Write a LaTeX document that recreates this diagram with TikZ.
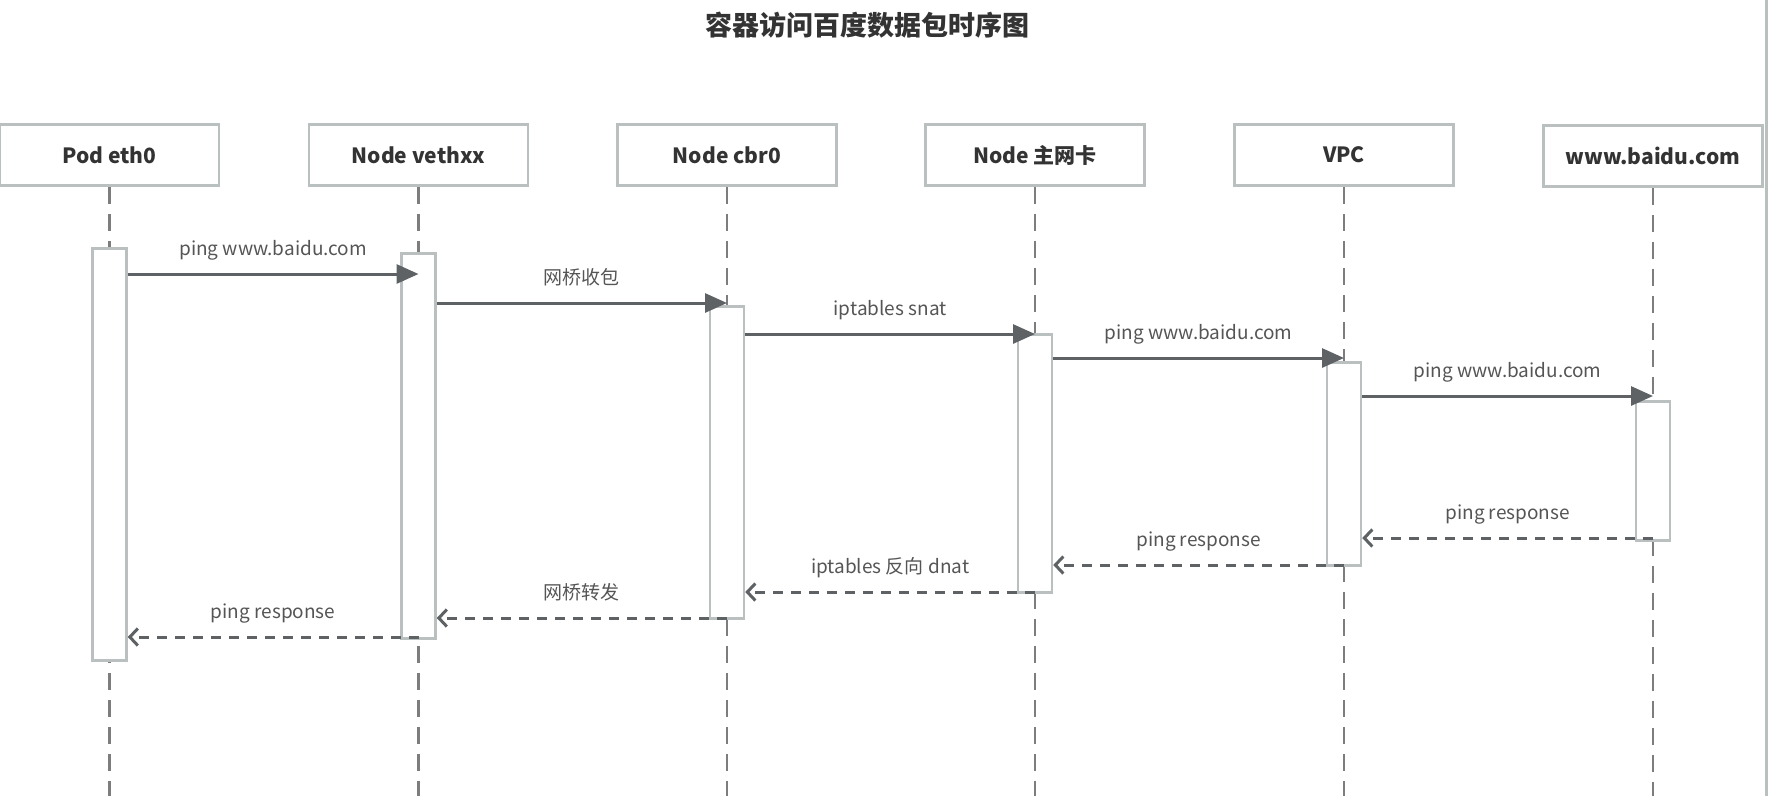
\documentclass[tikz,border=0pt]{standalone}
\usepackage{fontspec}
\setmainfont{Noto Sans CJK SC}
\usetikzlibrary{arrows.meta}

\definecolor{boxgray}{RGB}{186,192,192}
\definecolor{arrowgray}{RGB}{94,98,101}
\definecolor{lifegray}{RGB}{125,125,125}
\definecolor{headgray}{RGB}{51,51,51}
\definecolor{lblgray}{RGB}{85,85,85}

\tikzset{
  actor/.style={draw=boxgray, line width=2.5pt, fill=white,
    minimum width=219pt, minimum height=61pt, inner sep=0pt,
    font=\fontsize{21}{24}\selectfont\bfseries, text=headgray},
  actbar/.style={draw=boxgray, line width=2.5pt, fill=white,
    minimum width=34pt, inner sep=0pt, anchor=north},
  lifeline/.style={draw=lifegray, line width=2.5pt, dash pattern=on 17pt off 10pt},
  msg/.style={draw=arrowgray, line width=3pt, -{Triangle[length=22pt,width=19pt]}},
  reply/.style={draw=arrowgray, line width=3pt, dash pattern=on 10pt off 8pt,
    -{Straight Barb[length=8pt,width=17pt]}},
  lbl/.style={midway, above=13pt, inner sep=0pt, text height=14pt, text depth=4pt,
    font=\fontsize{19}{22}\selectfont, text=lblgray}
}

\begin{document}
\begin{tikzpicture}[x=1pt, y=-1pt]
\useasboundingbox (0,0) rectangle (1769,796);

\node[font=\fontsize{27}{30}\selectfont\bfseries, text=headgray] (title) at (867,25) {容器访问百度数据包时序图};

\node[actor] (pod) at (109.5,155) {Pod eth0};
\node[actor] (veth) at (418.5,155) {Node vethxx};
\node[actor] (cbr) at (727,155) {Node cbr0};
\node[actor] (nic) at (1035,155) {Node 主网卡};
\node[actor] (vpc) at (1344,155) {VPC};
\node[actor] (baidu) at (1653,156) {www.baidu.com};

\draw[lifeline] (pod.south) -- (pod.south |- 0,796);
\draw[lifeline] (veth.south) -- (veth.south |- 0,796);
\draw[lifeline] (cbr.south) -- (cbr.south |- 0,796);
\draw[lifeline] (nic.south) -- (nic.south |- 0,796);
\draw[lifeline] (vpc.south) -- (vpc.south |- 0,796);
\draw[lifeline] (baidu.south) -- (baidu.south |- 0,796);

\node[actbar, minimum height=412pt] (podbar) at (109.5,247) {};
\node[actbar, minimum height=385pt] (vethbar) at (418.5,252) {};
\node[actbar, minimum height=312pt] (cbrbar) at (727,305) {};
\node[actbar, minimum height=258pt] (nicbar) at (1035,333) {};
\node[actbar, minimum height=203pt] (vpcbar) at (1344,361) {};
\node[actbar, minimum height=139pt] (baidubar) at (1653,400) {};

\draw[msg] (podbar.east |- 0,274) -- (veth |- 0,274) node[lbl] {ping www.baidu.com};
\draw[msg] (vethbar.east |- 0,303) -- (cbr |- 0,303) node[lbl] {网桥收包};
\draw[msg] (cbrbar.east |- 0,334) -- (nic |- 0,334) node[lbl] {iptables snat};
\draw[msg] (nicbar.east |- 0,358) -- (vpc |- 0,358) node[lbl] {ping www.baidu.com};
\draw[msg] (vpcbar.east |- 0,396) -- (baidu |- 0,396) node[lbl] {ping www.baidu.com};

\draw[reply] (baidu |- 0,538) -- (vpcbar.east |- 0,538) node[lbl] {ping response};
\draw[reply] (vpc |- 0,565) -- (nicbar.east |- 0,565) node[lbl] {ping response};
\draw[reply] (nic |- 0,592) -- (cbrbar.east |- 0,592) node[lbl] {iptables 反向 dnat};
\draw[reply] (cbr |- 0,618) -- (vethbar.east |- 0,618) node[lbl] {网桥转发};
\draw[reply] (veth |- 0,637) -- (podbar.east |- 0,637) node[lbl] {ping response};

\draw[draw=boxgray, line width=3pt] (1766,0) -- (1766,796);
\end{tikzpicture}
\end{document}
